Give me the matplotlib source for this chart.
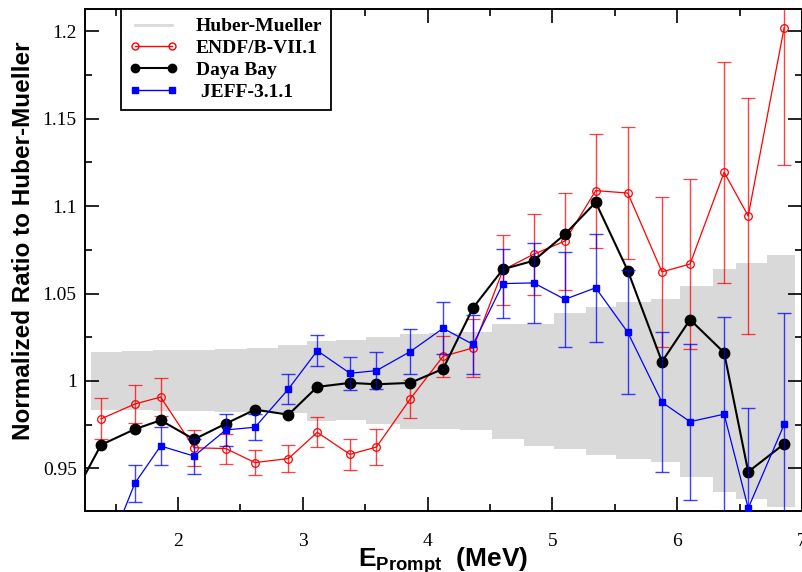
import numpy as np
import matplotlib
matplotlib.use("Agg")
import matplotlib.pyplot as plt
from matplotlib.lines import Line2D
from matplotlib.ticker import MultipleLocator

# prompt energy of each point (MeV)
e_prompt = [1.383, 1.654, 1.861, 2.129, 2.384, 2.617, 2.885, 3.116, 3.378, 3.590,
            3.861, 4.124, 4.365, 4.604, 4.850, 5.100, 5.347, 5.604, 5.878, 6.103,
            6.376, 6.569, 6.857]

# Daya Bay (one extra point left of the frame)
dyb_e = [1.125] + e_prompt
dyb_ratio = [0.929, 0.9634, 0.9724, 0.9775, 0.9666, 0.9756, 0.9836, 0.9807, 0.9966,
             0.9989, 0.9981, 0.9989, 1.0069, 1.0419, 1.0639, 1.0688, 1.0839, 1.1022,
             1.0631, 1.0110, 1.0351, 1.0162, 0.9480, 0.9640]

# ENDF/B-VII.1
endf_ratio = [0.9783, 0.9868, 0.9908, 0.9618, 0.9613, 0.9533, 0.9556, 0.9706, 0.9580,
              0.9622, 0.9897, 1.0141, 1.0189, 1.0635, 1.0725, 1.0800, 1.1089, 1.1075,
              1.0624, 1.0669, 1.1194, 1.0944, 1.2021]
endf_err = [0.0117, 0.0110, 0.0110, 0.0102, 0.0086, 0.0072, 0.0079, 0.0086, 0.0090,
            0.0102, 0.0110, 0.0119, 0.0167, 0.0200, 0.0233, 0.0277, 0.0326, 0.0378,
            0.0428, 0.0486, 0.0633, 0.0676, 0.0785]

# JEFF-3.1.1
jeff_ratio = [0.893, 0.9414, 0.9628, 0.9570, 0.9720, 0.9735, 0.9954, 1.0173, 1.0044,
              1.0059, 1.0168, 1.0301, 1.0209, 1.0557, 1.0561, 1.0467, 1.0533, 1.0278,
              0.9878, 0.9767, 0.9810, 0.9272, 0.9751]
jeff_err = [0.0100, 0.0104, 0.0108, 0.0100, 0.0092, 0.0075, 0.0084, 0.0089, 0.0094,
            0.0107, 0.0128, 0.0149, 0.0169, 0.0198, 0.0228, 0.0270, 0.0310, 0.0355,
            0.0400, 0.0447, 0.0558, 0.0575, 0.0639]

# Huber-Mueller uncertainty band (steps)
hm_edges = [1.30, 1.55, 1.80, 2.05, 2.30, 2.55, 2.80, 3.03, 3.27, 3.51, 3.78, 4.01,
            4.26, 4.52, 4.77, 5.01, 5.27, 5.51, 5.79, 6.02, 6.29, 6.47, 6.72, 6.94]
hm_hi = [1.0164, 1.0173, 1.0176, 1.0179, 1.0183, 1.0188, 1.0208, 1.0227, 1.0235,
         1.0253, 1.0270, 1.0273, 1.0278, 1.0326, 1.0326, 1.0387, 1.0425, 1.0450,
         1.0469, 1.0545, 1.0641, 1.0673, 1.0722]
hm_lo = [0.9834, 0.9833, 0.9830, 0.9827, 0.9824, 0.9822, 0.9816, 0.9772, 0.9776,
         0.9756, 0.9725, 0.9725, 0.9721, 0.9668, 0.9626, 0.9611, 0.9578, 0.9554,
         0.9534, 0.9453, 0.9363, 0.9325, 0.9277]

plt.rcParams['mathtext.fontset'] = 'custom'
plt.rcParams['mathtext.bf'] = 'Liberation Sans:bold'
plt.rcParams['mathtext.rm'] = 'Liberation Sans:bold'

fig = plt.figure(figsize=(8.03, 5.72), dpi=100)
ax = fig.add_axes([85 / 803, 61 / 572, 717 / 803, 502 / 572])

band_color = '#d9d9d9'
ax.fill_between(hm_edges, hm_lo + [hm_lo[-1]], hm_hi + [hm_hi[-1]], step='post',
                color=band_color, linewidth=0, zorder=1)

ax.errorbar(e_prompt, endf_ratio, yerr=endf_err, color='red', lw=0.9, marker='o',
            ms=5.5, mfc='none', mec='red', mew=0.9, ecolor=(1, 0, 0, 0.75),
            elinewidth=1.0, capsize=5, capthick=1.0, zorder=2)
ax.plot(dyb_e, dyb_ratio, color='black', lw=1.5, marker='o', ms=7.5, zorder=3)
ax.errorbar(e_prompt, jeff_ratio, yerr=jeff_err, color='blue', lw=0.9, marker='s',
            ms=4.5, ecolor=(0, 0, 1, 0.75), elinewidth=1.0, capsize=5, capthick=1.0,
            zorder=4)

ax.set_xlim(1.255, 7.0)
ax.set_ylim(0.9256, 1.2128)

ax.xaxis.set_major_locator(MultipleLocator(1))
ax.xaxis.set_minor_locator(MultipleLocator(0.5))
ax.yaxis.set_major_locator(MultipleLocator(0.05))
ax.yaxis.set_minor_locator(MultipleLocator(0.025))
ax.yaxis.set_major_formatter(plt.FuncFormatter(lambda v, p: f"{v:g}"))

ax.tick_params(which='both', direction='in', top=True, right=True, width=1.2)
ax.tick_params(which='major', length=10)
ax.tick_params(which='minor', length=5)
ax.tick_params(axis='x', which='major', pad=16)
ax.tick_params(axis='y', which='major', pad=6)
for lab in ax.get_xticklabels() + ax.get_yticklabels():
    lab.set_fontfamily('Liberation Serif')
    lab.set_fontsize(14)
for s in ax.spines.values():
    s.set_linewidth(1.4)

ax.set_xlabel(r'$\mathbf{E}_{\mathbf{Prompt}}$  (MeV)', fontfamily='Liberation Sans',
              fontweight='bold', fontsize=19)
ax.xaxis.set_label_coords(0.5, -0.067)
ax.set_ylabel('Normalized Ratio to Huber-Mueller', fontfamily='Liberation Sans',
              fontweight='bold', fontsize=17.5)
ax.yaxis.set_label_coords(-0.07, 0.538)

handles = [
    Line2D([], [], color=band_color, lw=2),
    Line2D([], [], color='red', lw=1, marker='o', ms=5, mfc='none', mec='red'),
    Line2D([], [], color='black', lw=1.5, marker='o', ms=6),
    Line2D([], [], color='blue', lw=1, marker='s', ms=4.5),
]
labels = ['Huber-Mueller', 'ENDF/B-VII.1', 'Daya Bay', ' JEFF-3.1.1']
leg = ax.legend(handles, labels, loc='upper left', bbox_to_anchor=(0.05, 1.0),
                borderaxespad=0, numpoints=2, handlelength=2.5, handletextpad=0.9,
                labelspacing=0.22, borderpad=0.45, fancybox=False, framealpha=1,
                edgecolor='black',
                prop={'family': 'Liberation Serif', 'weight': 'bold', 'size': 14})
leg.get_frame().set_linewidth(1.3)
leg.set_zorder(10)

fig.savefig('out.png', dpi=100)
